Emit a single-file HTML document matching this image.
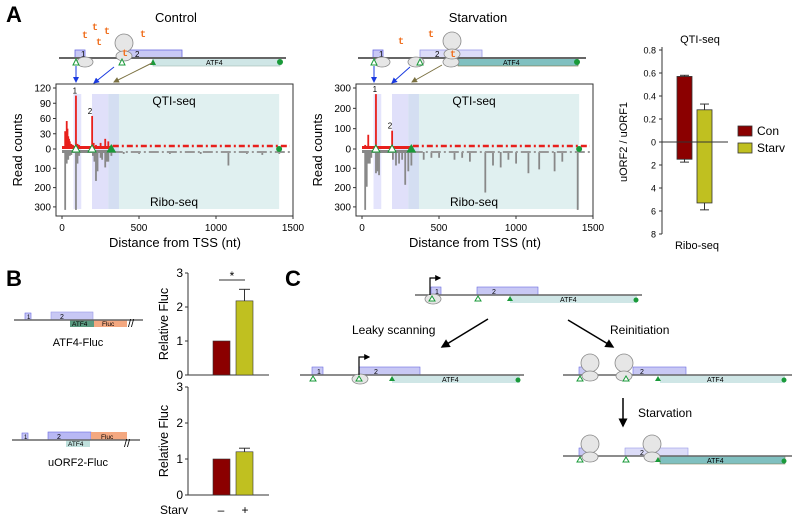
<!DOCTYPE html>
<html><head><meta charset="utf-8"><style>
html,body{margin:0;padding:0;background:#fff;}
svg{display:block;font-family:"Liberation Sans",Arial,sans-serif;}
</style></head><body>
<svg id="fig" width="800" height="520" viewBox="0 0 800 520" xmlns="http://www.w3.org/2000/svg">
<defs>
<marker id="ab" markerWidth="6" markerHeight="6" refX="5" refY="3" orient="auto"><path d="M0,0L6,3L0,6z" fill="#1a3ae0"/></marker>
<marker id="ao" markerWidth="6" markerHeight="6" refX="5" refY="3" orient="auto"><path d="M0,0L6,3L0,6z" fill="#7a7040"/></marker>
<marker id="ak" markerWidth="6" markerHeight="6" refX="5" refY="3" orient="auto"><path d="M0,0L6,3L0,6z" fill="#000"/></marker>
<marker id="ap" markerWidth="5" markerHeight="5" refX="4" refY="2.5" orient="auto"><path d="M0,0L5,2.5L0,5z" fill="#000"/></marker>
<g id="rib"><circle cx="0" cy="-9" r="9" fill="#e6e6e6" stroke="#888" stroke-width="0.8"/><ellipse cx="0" cy="4" rx="8" ry="5" fill="#e6e6e6" stroke="#888" stroke-width="0.8"/></g>
<g id="ss"><ellipse cx="0" cy="4" rx="8" ry="5" fill="#e6e6e6" stroke="#888" stroke-width="0.8"/></g>
</defs>

<text x="6" y="22" font-size="22" font-weight="bold">A</text>
<text x="6" y="286" font-size="22" font-weight="bold">B</text>
<text x="285" y="286" font-size="22" font-weight="bold">C</text>
<text x="176" y="22" font-size="13" text-anchor="middle">Control</text>
<text x="478" y="22" font-size="13" text-anchor="middle">Starvation</text>

<g>
<rect x="75" y="50" width="10" height="8" fill="#c8c8f4" stroke="#6a6ae0" stroke-width="0.8"/><text x="81" y="57" font-size="8">1</text>
<rect x="122" y="50" width="60" height="8" fill="#c8c8f4" stroke="#6a6ae0" stroke-width="0.8"/><text x="135" y="57" font-size="8">2</text>
<rect x="153" y="58" width="127" height="8" fill="#cfe6e6" stroke="#a0b8b0" stroke-width="0.6"/><text x="206" y="65" font-size="7">ATF4</text>
<line x1="59" y1="58" x2="286" y2="58" stroke="#666" stroke-width="2"/>
<use href="#ss" x="85" y="58"/><use href="#rib" x="124" y="52"/>
<path d="M76,59l-3,6h6z" fill="#fff" stroke="#1a9a3a"/><path d="M122,59l-3,6h6z" fill="#fff" stroke="#1a9a3a"/><path d="M153,59l-3,6h6z" fill="#1a9a3a"/><circle cx="280" cy="62" r="3" fill="#1a9a3a"/>
<g fill="#f07020" font-size="10" font-family="Liberation Mono,monospace" font-weight="bold"><text x="82" y="38">t</text><text x="92" y="30">t</text><text x="104" y="34">t</text><text x="96" y="45">t</text><text x="140" y="37">t</text><text x="122" y="56">t</text></g>
<line x1="76" y1="66" x2="76" y2="82" stroke="#1a3ae0" marker-end="url(#ab)"/>
<line x1="114" y1="67" x2="94" y2="83" stroke="#1a3ae0" marker-end="url(#ab)"/>
<line x1="152" y1="63" x2="114" y2="82" stroke="#7a7040" marker-end="url(#ao)"/>
</g>
<g>
<rect x="373" y="50" width="10" height="8" fill="#c8c8f4" stroke="#6a6ae0" stroke-width="0.8"/><text x="379" y="57" font-size="8">1</text>
<rect x="420" y="50" width="62" height="8" fill="#dcdcf8" stroke="#9a9ae8" stroke-width="0.8"/><text x="435" y="57" font-size="8">2</text>
<rect x="458" y="58" width="120" height="8" fill="#80c0c0" stroke="#7a7040" stroke-width="0.6"/><text x="503" y="65" font-size="7">ATF4</text>
<line x1="358" y1="58" x2="586" y2="58" stroke="#666" stroke-width="2"/>
<use href="#ss" x="382" y="58"/><use href="#ss" x="416" y="58"/><use href="#ss" x="451" y="58"/><use href="#rib" x="452" y="50"/>
<path d="M374,59l-3,6h6z" fill="#fff" stroke="#1a9a3a"/><path d="M420,59l-3,6h6z" fill="#fff" stroke="#1a9a3a"/><circle cx="577" cy="62" r="3" fill="#1a9a3a"/>
<g fill="#f07020" font-size="10" font-family="Liberation Mono,monospace" font-weight="bold"><text x="398" y="44">t</text><text x="428" y="37">t</text><text x="450" y="57">t</text></g>
<line x1="374" y1="66" x2="374" y2="82" stroke="#1a3ae0" marker-end="url(#ab)"/>
<line x1="410" y1="67" x2="392" y2="83" stroke="#1a3ae0" marker-end="url(#ab)"/>
<line x1="442" y1="65" x2="412" y2="82" stroke="#7a7040" marker-end="url(#ao)"/>
</g>

<g id="plots"></g>

<g>
<rect x="25" y="313" width="6" height="7" fill="#c8c8f4" stroke="#6a6ae0" stroke-width="0.6"/><text x="27" y="319" font-size="6">1</text>
<rect x="51" y="312" width="42" height="8" fill="#c8c8f4" stroke="#9a9ae8" stroke-width="0.6"/><text x="60" y="319" font-size="7">2</text>
<rect x="70" y="320" width="24" height="7" fill="#5a9a80"/><text x="72" y="326" font-size="6.5">ATF4</text>
<rect x="94" y="320" width="33" height="7" fill="#f4a880"/><text x="102" y="326" font-size="6.5">Fluc</text>
<line x1="14" y1="320" x2="143" y2="320" stroke="#666" stroke-width="1.5"/>
<text x="128" y="327" font-size="11">//</text>
<text x="78" y="346" font-size="11" text-anchor="middle">ATF4-Fluc</text>
</g>
<g>
<rect x="22" y="433" width="6" height="7" fill="#c8c8f4" stroke="#6a6ae0" stroke-width="0.6"/><text x="24" y="439" font-size="6">1</text>
<rect x="48" y="432" width="43" height="8" fill="#b8b8f4" stroke="#6a6ae0" stroke-width="0.6"/><text x="57" y="439" font-size="7">2</text>
<rect x="91" y="432" width="36" height="8" fill="#f4a880"/><text x="101" y="439" font-size="6.5">Fluc</text>
<rect x="66" y="440" width="24" height="7" fill="#bfe0dc"/><text x="68" y="446" font-size="6.5">ATF4</text>
<line x1="12" y1="440" x2="140" y2="440" stroke="#666" stroke-width="1.5"/>
<text x="124" y="447" font-size="11">//</text>
<text x="78" y="466" font-size="11" text-anchor="middle">uORF2-Fluc</text>
</g>

<g>
<rect x="431" y="287" width="10" height="8" fill="#c8c8f4" stroke="#6a6ae0" stroke-width="0.6"/><text x="435" y="294" font-size="7">1</text>
<rect x="477" y="287" width="61" height="8" fill="#c8c8f4" stroke="#6a6ae0" stroke-width="0.6"/><text x="492" y="294" font-size="7">2</text>
<rect x="510" y="295" width="127" height="8" fill="#cfe6e6"/><text x="560" y="302" font-size="7">ATF4</text>
<line x1="415" y1="295" x2="642" y2="295" stroke="#666" stroke-width="1.5"/>
<use href="#ss" x="433" y="295"/>
<path d="M432,296l-3,5h6z" fill="#fff" stroke="#1a9a3a"/><path d="M478,296l-3,5h6z" fill="#fff" stroke="#1a9a3a"/><path d="M510,296l-3,5h6z" fill="#1a9a3a"/><circle cx="636" cy="300" r="2.5" fill="#1a9a3a"/>
<path d="M430,295V278h10" fill="none" stroke="#000" stroke-width="1.2" marker-end="url(#ap)"/>
</g>
<line x1="488" y1="319" x2="442" y2="347" stroke="#000" stroke-width="1.5" marker-end="url(#ak)"/>
<line x1="568" y1="320" x2="613" y2="347" stroke="#000" stroke-width="1.5" marker-end="url(#ak)"/>
<text x="352" y="334" font-size="12">Leaky scanning</text>
<text x="610" y="334" font-size="12">Reinitiation</text>

<g>
<rect x="312" y="367" width="11" height="8" fill="#c8c8f4" stroke="#6a6ae0" stroke-width="0.6"/><text x="317" y="374" font-size="7">1</text>
<rect x="359" y="367" width="61" height="8" fill="#c8c8f4" stroke="#6a6ae0" stroke-width="0.6"/><text x="374" y="374" font-size="7">2</text>
<rect x="392" y="375" width="128" height="8" fill="#cfe6e6"/><text x="442" y="382" font-size="7">ATF4</text>
<line x1="300" y1="375" x2="524" y2="375" stroke="#666" stroke-width="1.5"/>
<use href="#ss" x="360" y="375"/>
<path d="M313,376l-3,5h6z" fill="#fff" stroke="#1a9a3a"/><path d="M359,376l-3,5h6z" fill="#fff" stroke="#1a9a3a"/><path d="M392,376l-3,5h6z" fill="#1a9a3a"/><circle cx="518" cy="380" r="2.5" fill="#1a9a3a"/>
<path d="M359,375V357h10" fill="none" stroke="#000" stroke-width="1.2" marker-end="url(#ap)"/>
</g>
<g>
<rect x="579" y="367" width="10" height="8" fill="#c8c8f4" stroke="#6a6ae0" stroke-width="0.6"/>
<rect x="633" y="367" width="53" height="8" fill="#c8c8f4" stroke="#6a6ae0" stroke-width="0.6"/><text x="640" y="374" font-size="7">2</text>
<rect x="660" y="375" width="125" height="8" fill="#cfe6e6"/><text x="707" y="382" font-size="7">ATF4</text>
<line x1="563" y1="375" x2="792" y2="375" stroke="#666" stroke-width="1.5"/>
<use href="#rib" x="590" y="372"/><use href="#rib" x="624" y="372"/>
<path d="M580,376l-3,5h6z" fill="#fff" stroke="#1a9a3a"/><path d="M626,376l-3,5h6z" fill="#fff" stroke="#1a9a3a"/><path d="M658,376l-3,5h6z" fill="#1a9a3a"/><circle cx="784" cy="380" r="2.5" fill="#1a9a3a"/>
</g>
<line x1="623" y1="398" x2="623" y2="426" stroke="#000" stroke-width="1.5" marker-end="url(#ak)"/>
<text x="638" y="417" font-size="12">Starvation</text>
<g>
<rect x="579" y="448" width="10" height="8" fill="#c8c8f4" stroke="#6a6ae0" stroke-width="0.6"/>
<rect x="625" y="448" width="63" height="8" fill="#dcdcf8" stroke="#9a9ae8" stroke-width="0.6"/><text x="640" y="455" font-size="7">2</text>
<rect x="660" y="456" width="125" height="8" fill="#80c0c0" stroke="#7a7040" stroke-width="0.5"/><text x="707" y="463" font-size="7">ATF4</text>
<line x1="563" y1="456" x2="792" y2="456" stroke="#666" stroke-width="1.5"/>
<use href="#rib" x="590" y="453"/><use href="#rib" x="652" y="453"/>
<path d="M580,457l-3,5h6z" fill="#fff" stroke="#1a9a3a"/><path d="M626,457l-3,5h6z" fill="#fff" stroke="#1a9a3a"/><path d="M658,457l-3,5h6z" fill="#1a9a3a"/><circle cx="784" cy="461" r="2.5" fill="#1a9a3a"/>
</g>
</svg>
<script>
const conQtiPos = [20,25,30,35,40,45,50,60,70,90,100,110,195,205,220,250,280,300,320];
const conQtiVal = [35,30,55,40,25,20,15,10,8,105,10,8,65,12,8,12,20,15,8];
const conRiboPos = [20,30,40,50,60,90,100,110,200,210,220,230,250,260,280,290,300,320,400,500,700,900,1080,1200,1300,1410];
const conRiboVal = [300,60,40,20,15,300,60,20,20,50,150,100,30,40,80,50,50,20,10,10,10,10,70,10,15,10];
const stvQtiPos = [20,30,40,50,90,195,210,300];
const stvQtiVal = [20,15,70,15,270,90,10,8];
const stvRiboPos = [20,30,40,50,60,90,100,110,200,220,240,260,280,300,320,400,450,500,600,650,700,800,850,900,950,1000,1080,1150,1250,1300,1400];
const stvRiboVal = [300,180,60,60,30,110,100,120,40,70,60,40,170,100,70,40,30,30,40,30,50,210,70,80,40,60,110,90,100,50,300];
const conQtiTicks = [0,30,60,90,120];
const stvQtiTicks = [0,100,200,300];
const riboTicks = [100,200,300];
const xTicks = [0,500,1000,1500];
const ratioCats = ['Con','Starv'];
const ratioQti = [0.57,0.28];
const ratioQtiErr = [0.58,0.33];
const ratioRibo = [1.5,5.3];
const ratioRiboErr = [1.75,5.9];
const ratioTopTicks = [0,0.2,0.4,0.6,0.8];
const ratioBotTicks = [2,4,6,8];
const flucTop = [1,2.18];
const flucTopErr = [2.52];
const flucBot = [1,1.2];
const flucBotErr = [1.3];
const flucTicks = [0,1,2,3];
const colors = ['#8b0000','#c0c020'];

const NS='http://www.w3.org/2000/svg';
const root=document.getElementById('plots');
function mk(tag,attrs,parent){const e=document.createElementNS(NS,tag);for(const k in attrs)e.setAttribute(k,attrs[k]);(parent||root).appendChild(e);return e;}

function track(ox,qPos,qVal,qTicks,qMax,rPos,rVal,nm){
  const x=v=>ox+62+v*0.154;
  const yq=v=>149-v*(61/qMax);
  const yr=v=>152+v*0.193;
  const g=mk('g',{});
  
  
  mk('rect',{x:x(75),y:94,width:x(125)-x(75),height:115,fill:'#e4e4fc'},g);
  mk('rect',{x:x(195),y:94,width:x(300)-x(195),height:115,fill:'#e0e0fa'},g);
  mk('rect',{x:x(300),y:94,width:x(370)-x(300),height:115,fill:'#d4def2'},g);
  mk('rect',{x:x(370),y:94,width:x(1410)-x(370),height:115,fill:'#e0f0f0'},g);
  mk('rect',{x:ox+56,y:84,width:237,height:132,fill:'none',stroke:'#333','stroke-width':1},g);
  qPos.forEach((p,i)=>{const r=mk('rect',{x:x(p)-0.8,y:yq(qVal[i]),width:1.8,height:149-yq(qVal[i]),fill:'#e8201c'},g);
    });
  rPos.forEach((p,i)=>{const r=mk('rect',{x:x(p)-0.8,y:152,width:1.8,height:yr(rVal[i])-152,fill:'#888'},g);
    });
  mk('line',{x1:x(330),y1:146,x2:x(1480),y2:146,stroke:'#e8201c','stroke-width':2.5,'stroke-dasharray':'6 3 2 3'},g);
  mk('line',{x1:x(330),y1:152,x2:x(1480),y2:152,stroke:'#999','stroke-width':2,'stroke-dasharray':'10 3 2 3'},g);
  mk('rect',{x:ox+62,y:150,width:x(330)-ox-62,height:3,fill:'#888'},g);
  mk('rect',{x:ox+62,y:146,width:x(330)-ox-62,height:3,fill:'#e8201c'},g);
  [[90,'#fff'],[195,'#fff'],[320,'#1a9a3a']].forEach(([p,f])=>mk('path',{d:`M${x(p)},145l-4,7h8z`,fill:f,stroke:'#1a9a3a'},g));
  mk('circle',{cx:x(1410),cy:149,r:3,fill:'#1a9a3a'},g);
  mk('text',{x:x(90)-1,y:yq(qVal[qPos.indexOf(90)])-2,'font-size':8,'text-anchor':'middle'},g).textContent='1';
  mk('text',{x:x(195)-2,y:yq(qVal[qPos.indexOf(195)])-2,'font-size':8,'text-anchor':'middle'},g).textContent='2';
  mk('text',{x:ox+174,y:105,'font-size':12,'text-anchor':'middle'},g).textContent='QTI-seq';
  mk('text',{x:ox+174,y:206,'font-size':12,'text-anchor':'middle'},g).textContent='Ribo-seq';
  mk('line',{x1:ox+56,y1:84,x2:ox+56,y2:216,stroke:'#333'},g);
  qTicks.forEach(t=>{mk('line',{x1:ox+53,y1:yq(t),x2:ox+56,y2:yq(t),stroke:'#333'},g);
    mk('text',{x:ox+51,y:yq(t)+3.5,'font-size':10,'text-anchor':'end'},g).textContent=t;});
  riboTicks.forEach(t=>{mk('line',{x1:ox+53,y1:yr(t)-3,x2:ox+56,y2:yr(t)-3,stroke:'#333'},g);
    mk('text',{x:ox+51,y:yr(t)+0.5,'font-size':10,'text-anchor':'end'},g).textContent=t;});
  xTicks.forEach(t=>{mk('line',{x1:x(t),y1:216,x2:x(t),y2:219,stroke:'#333'},g);
    mk('text',{x:x(t),y:231,'font-size':10,'text-anchor':'middle'},g).textContent=t;});
  mk('text',{x:ox+175,y:247,'font-size':13,'text-anchor':'middle'},g).textContent='Distance from TSS (nt)';
  mk('text',{x:ox+22,y:150,'font-size':13,'text-anchor':'middle',transform:`rotate(-90 ${ox+22} 150)`},g).textContent='Read counts';
}
track(0,conQtiPos,conQtiVal,conQtiTicks,120,conRiboPos,conRiboVal,'control');
track(300,stvQtiPos,stvQtiVal,stvQtiTicks,300,stvRiboPos,stvRiboVal,'starvation');

(function(){
  const g=mk('g',{});
  
  
  const yt=v=>142-v*115; const yb=v=>142+v*11.5;
  const bx=[677,697];
  mk('line',{x1:662,y1:47,x2:662,y2:234,stroke:'#333'},g);
  ratioTopTicks.forEach(t=>{mk('line',{x1:659,y1:yt(t),x2:662,y2:yt(t),stroke:'#333'},g);
    mk('text',{x:656,y:yt(t)+3.5,'font-size':9,'text-anchor':'end'},g).textContent=t;});
  ratioBotTicks.forEach(t=>{mk('line',{x1:659,y1:yb(t),x2:662,y2:yb(t),stroke:'#333'},g);
    mk('text',{x:656,y:yb(t)+3.5,'font-size':9,'text-anchor':'end'},g).textContent=t;});
  ratioCats.forEach((c,i)=>{
    mk('line',{x1:bx[i]+7.5,y1:yt(ratioQtiErr[i]),x2:bx[i]+7.5,y2:yb(ratioRiboErr[i]),stroke:'#333'},g);
    mk('line',{x1:bx[i]+3,y1:yt(ratioQtiErr[i]),x2:bx[i]+12,y2:yt(ratioQtiErr[i]),stroke:'#333'},g);
    mk('line',{x1:bx[i]+3,y1:yb(ratioRiboErr[i]),x2:bx[i]+12,y2:yb(ratioRiboErr[i]),stroke:'#333'},g);
    const r=mk('rect',{x:bx[i],y:yt(ratioQti[i]),width:15,height:yb(ratioRibo[i])-yt(ratioQti[i]),fill:colors[i],stroke:'#333','stroke-width':0.8},g);
    
    
    const lb=mk('rect',{x:738,y:126+i*17,width:14,height:10,fill:colors[i],stroke:'#333','stroke-width':0.8},g);
    
    
    mk('text',{x:757,y:135+i*17,'font-size':12},g).textContent=c;
  });
  mk('line',{x1:662,y1:142,x2:728,y2:142,stroke:'#333'},g);
  mk('text',{x:700,y:43,'font-size':11,'text-anchor':'middle'},g).textContent='QTI-seq';
  mk('text',{x:697,y:249,'font-size':11,'text-anchor':'middle'},g).textContent='Ribo-seq';
  mk('text',{x:627,y:142,'font-size':11,'text-anchor':'middle',transform:'rotate(-90 627 142)'},g).textContent='uORF2 / uORF1';
})();

function fluc(vals,err,y0,ppu,nm){
  const g=mk('g',{});
  
  
  const y=v=>y0-v*ppu; const bx=[213,236];
  mk('line',{x1:188,y1:y(3),x2:188,y2:y0,stroke:'#333'},g);
  mk('line',{x1:188,y1:y0,x2:269,y2:y0,stroke:'#333'},g);
  flucTicks.forEach(t=>{mk('line',{x1:185,y1:y(t),x2:188,y2:y(t),stroke:'#333'},g);
    mk('text',{x:183,y:y(t)+4,'font-size':12,'text-anchor':'end'},g).textContent=t;});
  mk('line',{x1:bx[1]+8.5,y1:y(err[0]),x2:bx[1]+8.5,y2:y(vals[1]),stroke:'#333'},g);
  mk('line',{x1:bx[1]+3,y1:y(err[0]),x2:bx[1]+14,y2:y(err[0]),stroke:'#333'},g);
  vals.forEach((v,i)=>{const r=mk('rect',{x:bx[i],y:y(v),width:17,height:y0-y(v),fill:colors[i],stroke:'#333','stroke-width':0.6},g);
    });
  mk('text',{x:168,y:(y(3)+y0)/2,'font-size':12.5,'text-anchor':'middle',transform:`rotate(-90 168 ${(y(3)+y0)/2})`},g).textContent='Relative Fluc';
  return y;
}
fluc(flucTop,flucTopErr,375,34,'atf4-fluc-chart');
fluc(flucBot,flucBotErr,495,36,'uorf2-fluc-chart');
mk('line',{x1:219,y1:280,x2:245,y2:280,stroke:'#333'});
mk('text',{x:232,y:280,'font-size':12,'text-anchor':'middle'}).textContent='*';
mk('text',{x:160,y:514,'font-size':12}).textContent='Starv';
mk('text',{x:221,y:514,'font-size':12,'text-anchor':'middle'}).textContent='–';
mk('text',{x:245,y:514,'font-size':12,'text-anchor':'middle'}).textContent='+';
</script>
</body></html>
